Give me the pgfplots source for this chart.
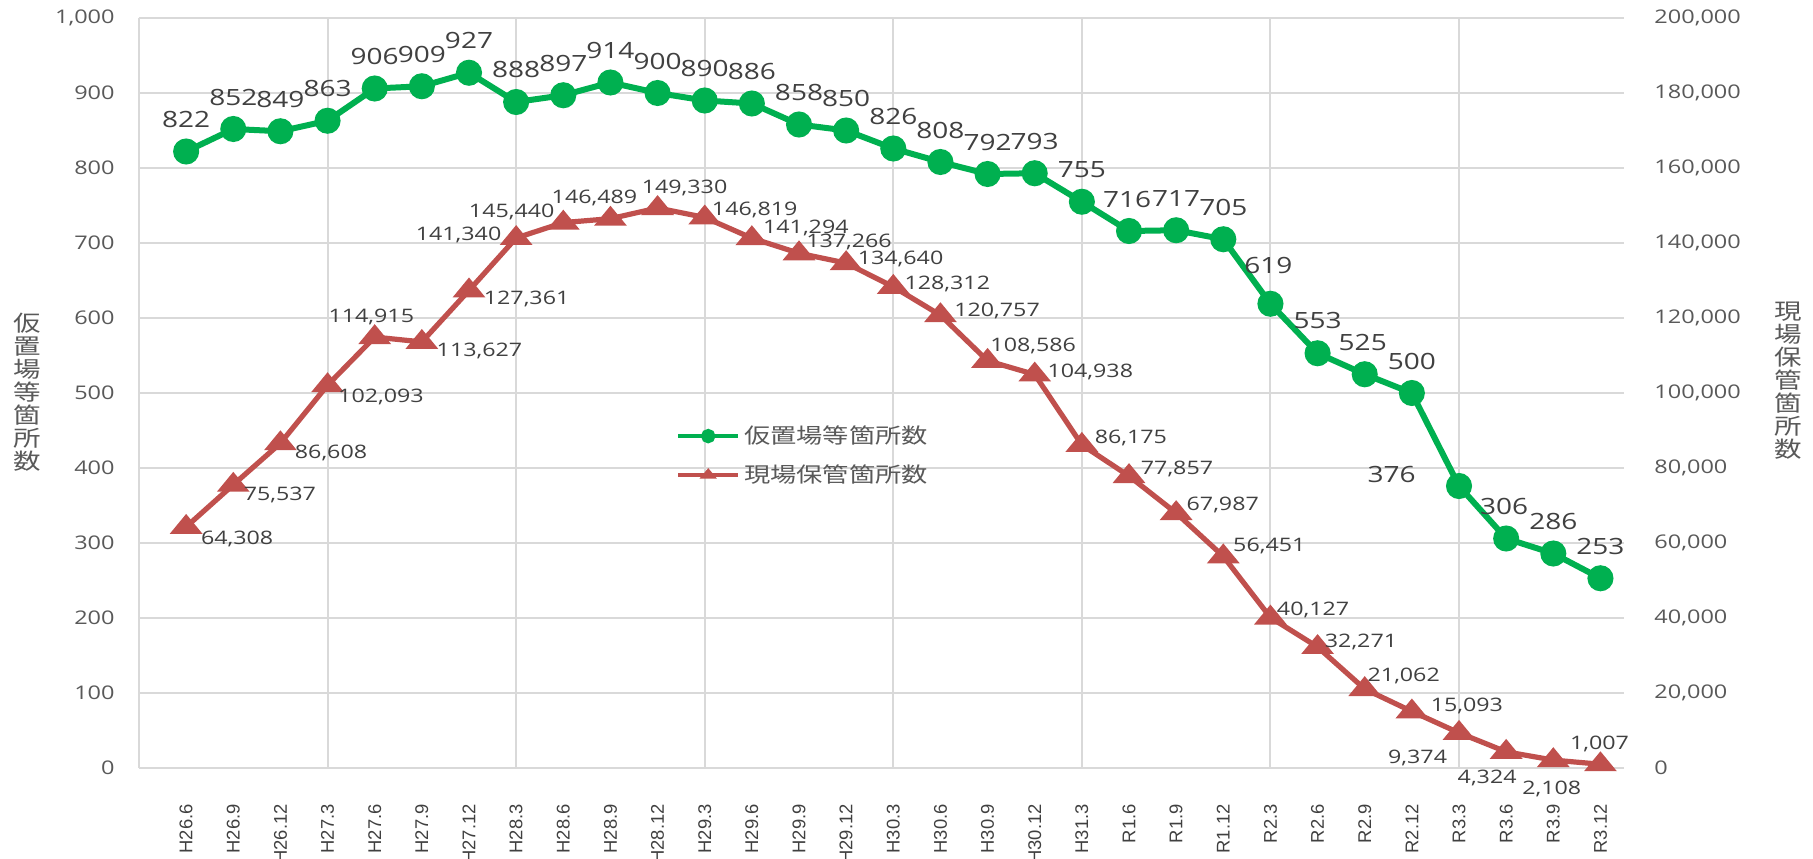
\documentclass[border=0pt]{standalone}
\usepackage{pgfplots}
\usepackage{pgfplotstable}
\pgfplotsset{compat=1.18}
\usepackage{fontspec}
\setmainfont{Open Sans}[FakeStretch=1.25]
\newfontfamily\cjk{Noto Sans CJK JP}[FakeStretch=1.25]
\newfontfamily\xfont{Liberation Sans}
\definecolor{grn}{HTML}{00B050}
\definecolor{rd}{HTML}{C0504D}
\definecolor{gridc}{HTML}{D9D9D9}
\definecolor{txt}{HTML}{595959}
\definecolor{lab}{HTML}{404040}

\pgfplotstableread{
x y dx dy
0 822 0 16
1 852 0 16
2 849 0 16
3 863 0 16
4 906 0 16
5 909 0 16
6 927 0 16
7 888 0 16
8 897 0 16
9 914 0 16
10 900 0 16
11 890 0 16
12 886 0 16
13 858 0 16
14 850 0 16
15 826 0 16
16 808 0 16
17 792 0 16
18 793 0 16
19 755 0 16
20 716 -1 16
21 717 0 16
22 705 0 16
23 619 -1 19
24 553 0 16.5
25 525 -1 16
26 500 0 16
27 376 -33.7 6
28 306 -1 16
29 286 0 16
30 253 0 16
}\greendata

\pgfplotstableread{
x y dx dy
0 64308 25.5 -6.2
1 75537 23.3 -5
2 86608 25.3 -5
3 102093 26.7 -5.8
4 114915 -1.7 10
5 113627 28.8 -4.3
6 127361 28.8 -4.2
7 141340 -28.8 1.3
8 145440 -25.8 5.5
9 146489 -8 10.5
10 149330 13.5 10
11 146819 25 3.8
12 141294 27 5.3
13 137266 25 5.8
14 134640 27.2 2.2
15 128312 27 1.2
16 120757 28.3 2
17 108586 22.8 7.5
18 104938 27.8 1.3
19 86175 24.5 3.3
20 77857 24 3.5
21 67987 23.3 3.8
22 56451 23 5
23 40127 21.3 3.8
24 32271 21.7 2.5
25 21062 19.5 6.3
26 15093 27.5 2.5
27 9374 -20.7 -12.8
28 4324 -9.5 -13
29 2108 -0.8 -14.5
30 1007 -0.5 10.3
}\reddata

\pgfplotsset{
  base/.style={
    at={(0pt,0pt)}, anchor=south west,
    scale only axis, width=742.5pt, height=375pt,
    xmin=-1, xmax=30.5,
    clip=false,
    major tick length=0pt,
    axis line style={draw=none},
    /pgf/number format/assume math mode=true,
    /pgf/number format/1000 sep={,},
    scaled y ticks=false,
    yticklabel style={font=\fontsize{9.4}{9.4}\selectfont, text=txt, inner sep=0pt},
    legend image code/.code={\draw[##1, line width=2pt, mark size=2.6pt, mark repeat=2, mark phase=2] plot coordinates {(0pt,0pt) (15pt,0pt) (30pt,0pt)};},
  },
}

\begin{document}
\begin{tikzpicture}
\begin{axis}[base,
  ymin=0, ymax=1000, ytick={0,100,...,1000},
  ymajorgrids, grid style={gridc, line width=1pt},
  yticklabel shift=12pt,
  xtick={0,...,30},
  xticklabels={H26.6,H26.9,H26.12,H27.3,H27.6,H27.9,H27.12,H28.3,H28.6,H28.9,H28.12,H29.3,H29.6,H29.9,H29.12,H30.3,H30.6,H30.9,H30.12,H31.3,R1.6,R1.9,R1.12,R2.3,R2.6,R2.9,R2.12,R3.3,R3.6,R3.9,R3.12},
  xticklabel style={rotate=90, anchor=east, inner sep=0pt, font=\xfont\fontsize{9.2}{9.2}\selectfont, text=lab},
  xticklabel shift=18pt,
  extra x ticks={-1,3,7,11,15,19,23,27},
  extra x tick labels={},
  extra x tick style={grid=major, grid style={gridc, line width=1pt}},
  ylabel={仮\\置\\場\\等\\箇\\所\\数},
  ylabel style={rotate=-90, at={(axis description cs:-0.0754,0.501)}, anchor=center, align=center, font=\cjk\fontsize{11}{11.5}\selectfont, text=txt},
]
\addplot[grn, line width=3pt, mark=*, mark size=5pt,
  visualization depends on={\thisrow{dx} \as \labdx},
  visualization depends on={\thisrow{dy} \as \labdy},
  nodes near coords={\pgfmathprintnumber[fixed,precision=0,1000 sep={,},assume math mode=true]{\pgfplotspointmeta}},
  nodes near coords style={anchor=center, xshift=\labdx pt, yshift=\labdy pt, font=\fontsize{11.2}{12}\selectfont, text=lab},
] table[x=x, y=y] {\greendata};
\end{axis}
\begin{axis}[base,
  ymin=0, ymax=200000, ytick={0,20000,...,200000},
  axis y line*=right, hide x axis,
  y axis line style={draw=none},
  yticklabel style={/pgf/number format/fixed, /pgf/number format/precision=0},
  yticklabel shift=15pt,
  ylabel={現\\場\\保\\管\\箇\\所\\数},
  ylabel style={rotate=-90, at={(axis description cs:1.1104,0.516)}, anchor=center, align=center, font=\cjk\fontsize{11}{11.5}\selectfont, text=txt},
  legend style={at={(axis description cs:0.3615,0.4167)}, anchor=west, draw=none, fill=none, inner sep=0pt,
    font=\cjk\fontsize{10.5}{12}\selectfont, text=txt, row sep=5pt},
  legend cell align=left,
]
\addlegendimage{grn, line width=3pt, mark=*, mark size=5pt}
\addlegendentry{仮置場等箇所数}
\addplot[rd, line width=2.6pt, mark=triangle*, mark size=6.3pt, mark options={yscale=0.7},
  visualization depends on={\thisrow{dx} \as \labdx},
  visualization depends on={\thisrow{dy} \as \labdy},
  nodes near coords={\pgfmathprintnumber[fixed,precision=0,1000 sep={,},assume math mode=true]{\pgfplotspointmeta}},
  nodes near coords style={anchor=center, xshift=\labdx pt, yshift=\labdy pt, font=\fontsize{9.3}{10}\selectfont, text=lab},
] table[x=x, y=y] {\reddata};
\addlegendentry{現場保管箇所数}
\end{axis}
\pgfresetboundingbox
\useasboundingbox (-69.5pt,-45pt) rectangle (837pt,384pt);
\end{tikzpicture}
\end{document}
